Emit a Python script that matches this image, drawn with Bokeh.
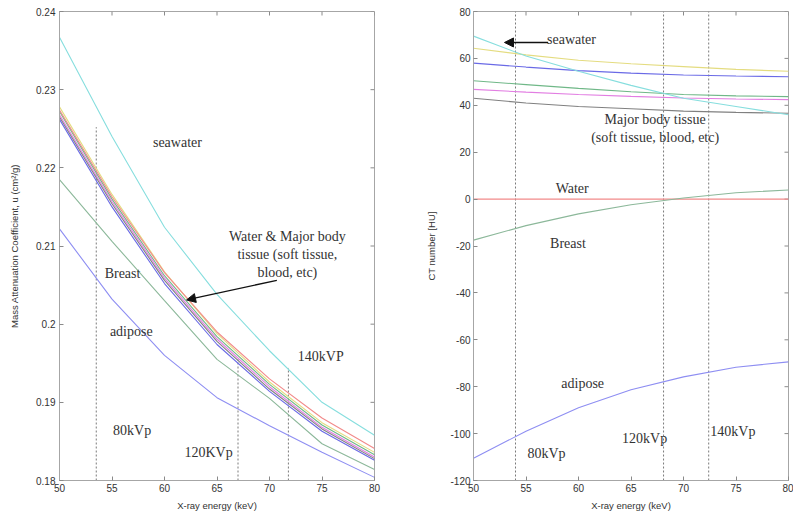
import math

from bokeh.plotting import figure
from bokeh.layouts import row
from bokeh.models import (FixedTicker, CustomJSTickFormatter, Range1d,
                          Arrow, NormalHead, Label)
from bokeh.embed import file_html
from bokeh.resources import INLINE

# X-ray energies (keV) at which the curves are sampled
energy = [50, 55, 60, 65, 70, 75, 80]

# Mass attenuation coefficient (cm^2/g)
mu_seawater = [0.2367, 0.2240, 0.2124, 0.2038, 0.1966, 0.1900, 0.1858]
mu_water    = [0.2274, 0.2163, 0.2066, 0.1990, 0.1930, 0.1880, 0.1841]
mu_tissue_a = [0.2278, 0.2166, 0.2067, 0.1988, 0.1926, 0.1874, 0.1836]
mu_tissue_b = [0.2262, 0.2150, 0.2052, 0.1974, 0.1914, 0.1863, 0.1826]
mu_tissue_c = [0.2272, 0.2160, 0.2062, 0.1984, 0.1923, 0.1871, 0.1833]
mu_tissue_d = [0.2268, 0.2157, 0.2059, 0.1981, 0.1920, 0.1868, 0.1830]
mu_tissue_e = [0.2265, 0.2154, 0.2056, 0.1978, 0.1917, 0.1866, 0.1828]
mu_breast   = [0.2185, 0.2106, 0.2030, 0.1955, 0.1905, 0.1847, 0.1814]
mu_adipose  = [0.2122, 0.2032, 0.1960, 0.1906, 0.1870, 0.1836, 0.1804]

# CT number (HU)
hu_seawater = [69.5, 61.0, 54.5, 48.5, 43.0, 39.5, 36.0]
hu_tissue_a = [64.3, 61.5, 59.2, 57.7, 56.5, 55.3, 54.5]
hu_tissue_b = [58.0, 56.3, 54.8, 53.7, 52.9, 52.5, 52.2]
hu_tissue_c = [50.5, 48.8, 47.2, 45.8, 44.6, 44.0, 43.7]
hu_tissue_d = [46.8, 45.6, 44.6, 43.8, 43.1, 42.7, 42.4]
hu_tissue_e = [43.0, 41.0, 39.5, 38.5, 37.5, 37.0, 36.6]
hu_water    = [0, 0, 0, 0, 0, 0, 0]
hu_breast   = [-17.5, -11.3, -6.3, -2.4, 0.5, 2.7, 3.9]
hu_adipose  = [-110.5, -99.0, -89.0, -81.3, -75.8, -71.7, -69.4]

# Mean energies of the tube spectra
kvp_labels = ["80kVp", "120KVp", "140kVP"]
kvp_mu_energy = [53.5, 67.0, 71.8]
kvp_mu_top = [0.2252, 0.1955, 0.1944]
kvp_hu_labels = ["80kVp", "120kVp", "140kVp"]
kvp_hu_energy = [54.0, 68.1, 72.4]

x_ticks = [50, 55, 60, 65, 70, 75, 80]
mu_ticks = [0.18, 0.19, 0.20, 0.21, 0.22, 0.23, 0.24]
hu_ticks = [-120, -100, -80, -60, -40, -20, 0, 20, 40, 60, 80]

SANS = "Liberation Sans"
SERIF = "Liberation Serif"
FRAME = "#a6a6a6"
TICK = "#8a8a8a"
INK = "#333333"

C_SEA = "#86dede"
C_WATER = "#f28a8a"
C_A = "#e4dc80"
C_B = "#6a6ae6"
C_C = "#70b888"
C_D = "#e27ee2"
C_E = "#808080"
C_BREAST = "#8cb89a"
C_ADIPOSE = "#8e8ef2"


def dress_axis(ax, ticks, formatter):
    ax.ticker = FixedTicker(ticks=ticks)
    ax.formatter = formatter
    ax.axis_line_color = FRAME
    ax.major_tick_line_color = TICK
    ax.major_tick_in = 4
    ax.major_tick_out = 0
    ax.minor_tick_line_color = None
    ax.major_label_text_font = SANS
    ax.major_label_text_font_size = "10px"
    ax.major_label_text_color = INK
    ax.axis_label_text_font = SANS
    ax.axis_label_text_font_style = "normal"
    ax.axis_label_text_font_size = "9.5px"
    ax.axis_label_text_color = INK


def make_panel(width, y_range, y_ticks, y_fmt, y_title, border_left, border_right,
               y_standoff, title_standoff):
    p = figure(width=width, height=519, x_range=Range1d(50, 80), y_range=y_range,
               output_backend="svg", toolbar_location=None,
               min_border_left=border_left, min_border_right=border_right,
               min_border_top=11, min_border_bottom=39)
    p.grid.visible = False
    p.outline_line_color = FRAME
    x_fmt = CustomJSTickFormatter(code="return String(tick);")
    dress_axis(p.xaxis[0], x_ticks, x_fmt)
    dress_axis(p.yaxis[0], y_ticks, y_fmt)
    p.xaxis[0].axis_label = "X-ray energy (keV)"
    p.xaxis[0].major_label_standoff = 3
    p.xaxis[0].axis_label_standoff = 5
    p.yaxis[0].axis_label = y_title
    p.yaxis[0].major_label_standoff = y_standoff
    p.yaxis[0].axis_label_standoff = title_standoff
    # inward ticks along the top and right edges of the box
    y_lo, y_hi = y_range.start, y_range.end
    p.ray(x=x_ticks, y=[y_hi] * len(x_ticks), length=4, length_units="screen",
          angle=-math.pi / 2, line_color=TICK, line_width=1)
    p.ray(x=[80] * len(y_ticks), y=y_ticks, length=4, length_units="screen",
          angle=math.pi, line_color=TICK, line_width=1)
    return p


def note(p, x, y, text, align="left"):
    p.add_layout(Label(x=x, y=y, text=text, text_font=SERIF, text_font_size="14px",
                       text_color=INK, text_align=align, text_baseline="middle"))


# ---- mass attenuation panel ----
p1 = make_panel(396, Range1d(0.18, 0.24), mu_ticks,
                CustomJSTickFormatter(code="return String(Math.round(tick*100)/100);"),
                "Mass Attenuation Coefficient, u (cm\u00b2/g)", 59, 22, 4, 13)

p1.segment(x0=kvp_mu_energy, y0=[0.18] * 3, x1=kvp_mu_energy, y1=kvp_mu_top,
           line_color="#7a7a7a", line_dash="2 2", line_width=1)

for ys, c in [(mu_seawater, C_SEA), (mu_tissue_a, C_A), (mu_tissue_c, C_C),
              (mu_tissue_d, C_D), (mu_tissue_e, C_E), (mu_tissue_b, C_B),
              (mu_water, C_WATER), (mu_breast, C_BREAST), (mu_adipose, C_ADIPOSE)]:
    p1.line(energy, ys, line_color=c, line_width=1.1)

note(p1, 58.9, 0.2232, "seawater")
note(p1, 71.7, 0.2112, "Water & Major body", "center")
note(p1, 71.7, 0.2089, "tissue (soft tissue,", "center")
note(p1, 71.7, 0.2066, "blood, etc)", "center")
note(p1, 54.3, 0.2065, "Breast")
note(p1, 54.8, 0.1990, "adipose")
note(p1, 72.7, 0.1958, kvp_labels[2])
note(p1, 55.1, 0.1864, kvp_labels[0])
note(p1, 61.9, 0.1836, kvp_labels[1])
p1.add_layout(Arrow(end=NormalHead(size=9, fill_color="#111111", line_color="#111111"),
                    x_start=70.7, y_start=0.2056, x_end=62.1, y_end=0.2031,
                    line_color="#111111", line_width=1.4))

# ---- CT number panel ----
p2 = make_panel(397, Range1d(-120, 80), hu_ticks,
                CustomJSTickFormatter(code="return String(tick);"),
                "CT number [HU]", 77, 5, 3, 10)

p2.segment(x0=kvp_hu_energy, y0=[-120] * 3, x1=kvp_hu_energy, y1=[80] * 3,
           line_color="#7a7a7a", line_dash="2 2", line_width=1)

for ys, c in [(hu_tissue_a, C_A), (hu_tissue_b, C_B), (hu_tissue_c, C_C),
              (hu_tissue_d, C_D), (hu_tissue_e, C_E), (hu_seawater, C_SEA),
              (hu_water, C_WATER), (hu_breast, C_BREAST), (hu_adipose, C_ADIPOSE)]:
    p2.line(energy, ys, line_color=c, line_width=1.1)

note(p2, 57.0, 68.0, "seawater")
p2.add_layout(Arrow(end=NormalHead(size=9, fill_color="#111111", line_color="#111111"),
                    x_start=57.1, y_start=66.8, x_end=52.95, y_end=66.8,
                    line_color="#111111", line_width=1.4))
note(p2, 67.3, 33.8, "Major body tissue", "center")
note(p2, 67.3, 26.1, "(soft tissue, blood, etc)", "center")
note(p2, 59.4, 4.4, "Water", "center")
note(p2, 59.0, -19.1, "Breast", "center")
note(p2, 60.4, -78.5, "adipose", "center")
note(p2, 56.95, -108.5, kvp_hu_labels[0], "center")
note(p2, 66.3, -102.0, kvp_hu_labels[1], "center")
note(p2, 74.7, -99.0, kvp_hu_labels[2], "center")

layout = row(p1, p2)
open("out.html", "w").write(file_html(layout, INLINE))
